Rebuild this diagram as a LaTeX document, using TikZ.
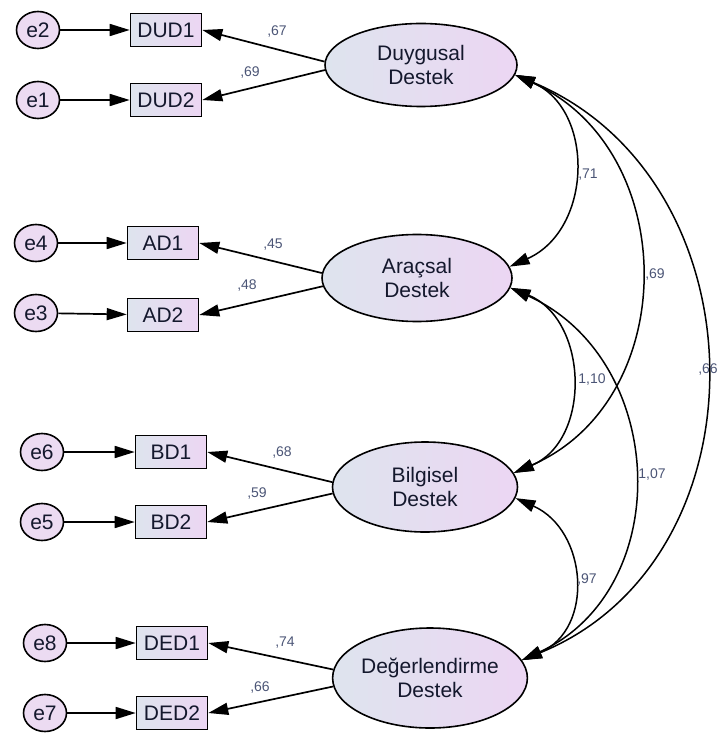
\documentclass[tikz,border=0pt]{standalone}
\usepackage{fontspec}
\setmainfont{Liberation Sans}
\usetikzlibrary{shapes.geometric,arrows.meta}

\definecolor{shleft}{RGB}{222,228,238}
\definecolor{shright}{RGB}{236,214,243}
\definecolor{errfill}{RGB}{236,219,242}
\definecolor{txtcol}{RGB}{20,24,45}
\definecolor{lblcol}{RGB}{75,85,118}

\tikzset{
  latent/.style={ellipse, draw=black, line width=1.6pt, left color=shleft, right color=shright,
    text=txtcol, align=center, inner sep=0pt, font=\fontsize{21}{24}\selectfont},
  observed/.style={rectangle, draw=black, line width=1.6pt, left color=shleft, right color=shright,
    text=txtcol, minimum width=71pt, minimum height=33pt, inner sep=0pt, font=\fontsize{21}{24}\selectfont},
  errterm/.style={ellipse, draw=black, line width=1.6pt, fill=errfill, text=txtcol,
    minimum width=43pt, minimum height=37pt, inner sep=0pt, font=\fontsize{21}{24}\selectfont},
  regline/.style={line width=1.7pt, -{Triangle[length=20pt,width=12pt]}},
  covline/.style={line width=1.5pt, {Triangle[length=20pt,width=12pt]}-{Triangle[length=20pt,width=12pt]}},
  coef/.style={text=lblcol, inner sep=0pt, font=\fontsize{14}{16}\selectfont}
}

\begin{document}
\begin{tikzpicture}[x=1pt,y=-1pt]
        \useasboundingbox (0,0) rectangle (720,735);

        % Latent factors
        \node[latent, minimum width=192pt, minimum height=83pt] (duy) at (421,65) {Duygusal\\Destek};
        \node[latent, minimum width=190pt, minimum height=87pt] (arac) at (417,278) {Araçsal\\Destek};
        \node[latent, minimum width=185pt, minimum height=90pt] (bilg) at (425,487) {Bilgisel\\Destek};
        \node[latent, minimum width=184pt, minimum height=100pt] (deger) at (430,678) {Değerlendirme\\Destek};

        % Observed items
        \node[observed] (dud1) at (166,30) {DUD1};
        \node[observed] (dud2) at (166,100) {DUD2};
        \node[observed] (ad1) at (163,243) {AD1};
        \node[observed] (ad2) at (163,315) {AD2};
        \node[observed] (bd1) at (171,452) {BD1};
        \node[observed] (bd2) at (171,522) {BD2};
        \node[observed] (ded1) at (172,643) {DED1};
        \node[observed] (ded2) at (172,713) {DED2};

        % Error terms
        \node[errterm] (e2) at (38,30) {e2};
        \node[errterm] (e1) at (38,100) {e1};
        \node[errterm] (e4) at (36,243) {e4};
        \node[errterm] (e3) at (36,313) {e3};
        \node[errterm] (e6) at (42,452) {e6};
        \node[errterm] (e5) at (42,522) {e5};
        \node[errterm] (e8) at (45,643) {e8};
        \node[errterm] (e7) at (45,713) {e7};

        % Errors to items
        \foreach \err/\item in {e2/dud1, e1/dud2, e4/ad1, e3/ad2, e6/bd1, e5/bd2, e8/ded1, e7/ded2}
            \draw[regline] (\err) -- (\item);

        % Loadings
        \draw[regline] (duy.178) -- (dud1.east);
        \draw[regline] (duy.183) -- (dud2.east);
        \draw[regline] (arac.177) -- (ad1.east);
        \draw[regline] (arac.185) -- (ad2.east);
        \draw[regline] (bilg.177) -- (bd1.east);
        \draw[regline] (bilg.184) -- (bd2.east);
        \draw[regline] (deger.175) -- (ded1.east);
        \draw[regline] (deger.185) -- (ded2.east);

        \node[coef] (l67) at (277,32) {,67};
        \node[coef] (l69) at (250,73) {,69};
        \node[coef] (l45) at (273,245) {,45};
        \node[coef] (l48) at (247,286) {,48};
        \node[coef] (l68) at (282,453) {,68};
        \node[coef] (l59) at (257,494) {,59};
        \node[coef] (l74) at (285,643) {,74};
        \node[coef] (l66) at (260,687) {,66};

        % Covariances between factors
        \draw[covline] (duy.-6) .. controls +(80,35) and +(83,-37) .. (arac.7);
        \draw[covline] (duy.-6) .. controls +(166,75) and +(168,-73) .. (bilg.9);
        \draw[covline] (duy.-6) .. controls +(250,105) and +(248,-101) .. (deger.11);
        \draw[covline] (arac.-6) .. controls +(78,32) and +(78,-33) .. (bilg.9);
        \draw[covline] (arac.-6) .. controls +(158,72) and +(154,-71) .. (deger.11);
        \draw[covline] (bilg.-7) .. controls +(72,32) and +(73,-31) .. (deger.11);

        \node[coef] (c71) at (588,175) {,71};
        \node[coef] (c69) at (655,275) {,69};
        \node[coef] (c66) at (708,370) {,66};
        \node[coef] (c110) at (592,380) {1,10};
        \node[coef] (c107) at (652,475) {1,07};
        \node[coef] (c97) at (587,580) {,97};
    \end{tikzpicture}
\end{document}
